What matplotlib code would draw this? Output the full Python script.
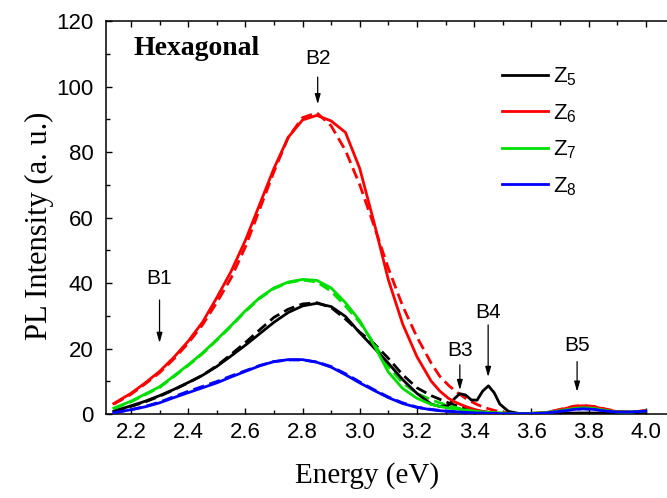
import matplotlib
matplotlib.use("Agg")
import matplotlib.pyplot as plt
from matplotlib.ticker import MultipleLocator

plt.rcParams['font.family'] = ['Liberation Sans', 'DejaVu Sans']
plt.rcParams['mathtext.default'] = 'regular'

energy = [2.14, 2.20, 2.25, 2.30, 2.35, 2.40, 2.45, 2.50, 2.55, 2.60, 2.65, 2.70,
          2.75, 2.80, 2.85, 2.90, 2.95, 3.00, 3.05, 3.10, 3.15, 3.20, 3.25, 3.28,
          3.31, 3.33, 3.35, 3.37, 3.39, 3.41, 3.43, 3.45, 3.47, 3.49, 3.52, 3.56,
          3.60, 3.65, 3.70, 3.75, 3.78, 3.82, 3.86, 3.90, 3.95, 4.00]

z5_solid = [0.8, 2.5, 3.9, 5.6, 7.5, 9.6, 11.8, 14.5, 17.7, 21.0, 24.5, 28.0,
            31.0, 33.0, 33.8, 32.8, 29.8, 24.8, 20.2, 15.5, 10.5, 6.3, 3.0, 2.3,
            2.6, 4.6, 6.2, 5.8, 4.3, 4.2, 7.0, 8.6, 6.5, 3.0, 0.8, 0.1,
            0.0, 0.0, 0.1, 0.3, 0.3, 0.3, 0.2, 0.1, 0.1, 0.2]
z5_dash = [0.7, 2.3, 3.7, 5.4, 7.4, 9.5, 11.8, 14.7, 18.2, 21.8, 25.7, 29.5,
           32.0, 33.6, 34.0, 32.5, 29.0, 25.0, 21.5, 17.0, 12.0, 8.0, 5.6, 4.5,
           3.4, 2.8, 2.2, 1.7, 1.3, 1.0, 0.7, 0.5, 0.3, 0.2, 0.1, 0.0,
           0.0, 0.0, 0.1, 0.2, 0.2, 0.2, 0.1, 0.1, 0.1, 0.2]

z6_solid = [3.2, 6.3, 9.5, 13.0, 17.3, 22.2, 28.0, 35.5, 43.5, 53.0, 64.0, 75.0,
            84.5, 89.8, 91.2, 89.5, 86.0, 75.0, 58.5, 41.0, 27.5, 17.5, 10.0, 7.0,
            4.8, 3.8, 3.0, 2.3, 1.7, 1.2, 0.8, 0.5, 0.3, 0.2, 0.1, 0.1,
            0.2, 0.4, 1.3, 2.3, 2.5, 2.2, 1.4, 0.7, 0.6, 1.0]
z6_dash = [3.0, 6.0, 9.2, 12.6, 16.8, 21.6, 27.2, 34.0, 41.5, 51.0, 62.5, 74.0,
           84.5, 90.5, 92.0, 88.0, 80.5, 70.0, 57.5, 44.5, 33.0, 23.5, 15.5, 11.5,
           8.8, 7.3, 6.0, 4.8, 3.8, 2.9, 2.2, 1.6, 1.1, 0.7, 0.3, 0.1,
           0.1, 0.4, 1.4, 2.4, 2.6, 2.3, 1.5, 0.8, 0.6, 1.0]

z7_solid = [1.8, 3.9, 6.1, 8.3, 11.6, 15.0, 18.6, 22.7, 27.0, 31.5, 35.5, 38.5,
            40.3, 41.1, 40.8, 38.5, 34.0, 28.5, 21.0, 12.8, 7.8, 4.8, 2.9, 2.3,
            1.8, 1.6, 1.4, 1.2, 1.0, 0.8, 0.6, 0.5, 0.4, 0.3, 0.2, 0.1,
            0.2, 0.4, 1.0, 1.7, 1.9, 1.7, 1.1, 0.6, 0.6, 0.9]
z7_dash = [1.6, 3.7, 5.9, 8.1, 11.4, 14.8, 18.4, 22.5, 26.8, 31.3, 35.3, 38.3,
           40.1, 40.9, 40.3, 37.5, 33.0, 28.0, 21.5, 14.5, 9.5, 6.3, 4.3, 3.4,
           2.6, 2.1, 1.7, 1.4, 1.1, 0.9, 0.7, 0.5, 0.4, 0.3, 0.2, 0.1,
           0.2, 0.4, 1.0, 1.7, 1.9, 1.7, 1.1, 0.6, 0.6, 0.9]

z8_solid = [0.4, 1.3, 2.2, 3.4, 5.0, 6.5, 8.0, 9.5, 11.3, 13.0, 14.7, 16.0,
            16.6, 16.6, 15.8, 14.3, 12.0, 9.5, 7.2, 5.0, 3.2, 2.0, 1.3, 1.0,
            0.8, 0.7, 0.6, 0.5, 0.4, 0.3, 0.3, 0.2, 0.2, 0.1, 0.1, 0.1,
            0.1, 0.3, 0.8, 1.4, 1.6, 1.4, 0.9, 0.6, 0.6, 0.9]
z8_dash = [0.4, 1.3, 2.3, 3.6, 5.3, 6.9, 8.4, 9.9, 11.6, 13.2, 14.8, 16.0,
           16.5, 16.5, 15.9, 14.5, 12.3, 9.8, 7.4, 5.2, 3.4, 2.1, 1.4, 1.1,
           0.9, 0.7, 0.6, 0.5, 0.4, 0.3, 0.3, 0.2, 0.2, 0.1, 0.1, 0.1,
           0.1, 0.3, 0.8, 1.4, 1.6, 1.4, 0.9, 0.6, 0.6, 0.9]

series = [
    ("Z$_5$", "black", z5_solid, z5_dash),
    ("Z$_6$", "#ff0000", z6_solid, z6_dash),
    ("Z$_7$", "#00e000", z7_solid, z7_dash),
    ("Z$_8$", "#0000ff", z8_solid, z8_dash),
]

# annotations: label, x, tail y, tip y, label y
peaks = [("B1", 2.30, 34.8, 21.7, 41.5),
         ("B2", 2.853, 102.9, 94.6, 108.7),
         ("B3", 3.35, 15.0, 7.3, 19.5),
         ("B4", 3.449, 27.2, 11.3, 31.1),
         ("B5", 3.76, 16.0, 6.8, 21.0)]

fig = plt.figure(figsize=(6.67, 4.98), dpi=100)
ax = fig.add_axes([0.159, 0.1687, 0.852, 0.789])

for lab, col, ys, yd in series:
    ax.plot(energy, ys, color=col, lw=2.0, label=lab, zorder=3)
for lab, col, ys, yd in series:
    ax.plot(energy, yd, color=col, lw=2.0, ls=(0, (4, 2)), zorder=2)

ax.set_xlim(2.113, 4.1)
ax.set_ylim(0, 120)
ax.xaxis.set_major_locator(MultipleLocator(0.2))
ax.xaxis.set_minor_locator(MultipleLocator(0.1))
ax.yaxis.set_major_locator(MultipleLocator(20))
ax.yaxis.set_minor_locator(MultipleLocator(10))
ax.set_xticks([2.2, 2.4, 2.6, 2.8, 3.0, 3.2, 3.4, 3.6, 3.8, 4.0])
ax.set_xticklabels(["2.2", "2.4", "2.6", "2.8", "3.0", "3.2", "3.4", "3.6", "3.8", "4.0"])
ax.tick_params(which='both', direction='in', top=True, right=True, width=1.0)
ax.tick_params(which='major', length=4.5, labelsize=16)
ax.tick_params(axis='x', which='major', pad=6)
ax.tick_params(axis='y', which='major', pad=9)
ax.tick_params(which='minor', length=3)
for sp in ax.spines.values():
    sp.set_linewidth(1.1)

ax.set_xlabel("Energy (eV)", fontsize=21, family=['Liberation Serif'])
ax.xaxis.set_label_coords(0.459, -0.122)
ax.set_ylabel("PL Intensity (a. u.)", fontsize=22, family=['Liberation Serif'])
ax.yaxis.set_label_coords(-0.0915, 0.48)

ax.text(0.049, 0.913, "Hexagonal", transform=ax.transAxes, fontsize=20,
        fontweight='bold', family=['Liberation Serif'], va='baseline', ha='left')

for lab, x, ytail, ytip, ylab in peaks:
    ax.annotate("", xy=(x, ytip), xytext=(x, ytail),
                arrowprops=dict(arrowstyle='-|>,head_length=0.6,head_width=0.17',
                                color='black', lw=0.9, shrinkA=0, shrinkB=0,
                                mutation_scale=10))
    ax.text(x, ylab, lab, fontsize=15, ha='center', va='center')

ax.legend(loc='upper left', bbox_to_anchor=(0.696, 0.887), frameon=False,
          fontsize=16, handlelength=2.1, handletextpad=0.2, labelspacing=0.63,
          borderpad=0, borderaxespad=0)

fig.savefig("out.png", dpi=100)
